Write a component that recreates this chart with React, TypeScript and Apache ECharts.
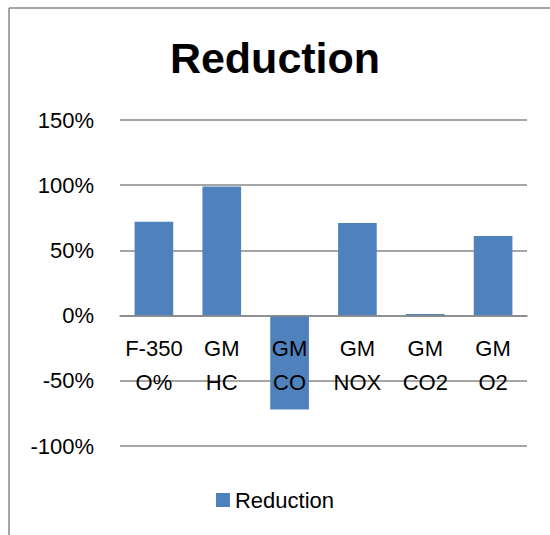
import React, { useEffect, useRef } from "react";
import * as echarts from "echarts";

const categories = ["F-350\nO%", "GM\nHC", "GM\nCO", "GM\nNOX", "GM\nCO2", "GM\nO2"];
const reduction = [72, 99, -72, 71, 1.3, 61];
const seriesName = "Reduction";
const titleText = "Reduction";
const yMin = -100;
const yMax = 150;
const yStep = 50;

export default function App() {
  const ref = useRef<HTMLDivElement>(null);
  useEffect(() => {
    if (!ref.current) return;
    const chart = echarts.init(ref.current, null, { renderer: "svg" });
    const font = "'Liberation Sans', Arial, sans-serif";
    const gridTop = 120;
    const gridBottom = 89;
    const plotH = 535 - gridTop - gridBottom;
    const zeroOffset = -((0 - yMin) / (yMax - yMin)) * plotH;
    chart.setOption({
      animation: false,
      backgroundColor: "#ffffff",
      title: {
        text: titleText,
        left: "center",
        top: 31,
        textStyle: { fontFamily: font, fontSize: 43, fontWeight: "bold", color: "#000" },
      },
      legend: {
        data: [seriesName],
        left: "center",
        top: 484,
        icon: "rect",
        itemWidth: 14,
        itemHeight: 14,
        itemGap: 6,
        textStyle: { fontFamily: font, fontSize: 22, color: "#000" },
      },
      grid: { left: 120, right: 23, top: gridTop, bottom: gridBottom, containLabel: false },
      xAxis: {
        type: "category",
        data: categories,
        position: "bottom",
        offset: zeroOffset,
        z: 5,
        axisLine: { onZero: false, lineStyle: { color: "#888", width: 1.5 } },
        axisTick: { show: false },
        axisLabel: {
          fontFamily: font,
          fontSize: 22,
          color: "#000",
          lineHeight: 34,
          margin: 16,
          interval: 0,
        },
      },
      yAxis: {
        type: "value",
        min: yMin,
        max: yMax,
        interval: yStep,
        axisLine: { show: false },
        axisTick: { show: false },
        splitLine: { lineStyle: { color: "#888", width: 1.5 } },
        axisLabel: {
          fontFamily: font,
          fontSize: 22,
          color: "#000",
          margin: 26,
          formatter: (v: number) => `${v}%`,
        },
      },
      series: [
        {
          name: seriesName,
          type: "bar",
          z: 2,
          data: reduction,
          barWidth: "57%",
          itemStyle: { color: "#4f81bd" },
        },
      ],
      graphic: [
        { type: "line", shape: { x1: 9, y1: 8, x2: 550, y2: 8 }, style: { stroke: "#888", lineWidth: 1.5 } },
        { type: "line", shape: { x1: 9, y1: 8, x2: 9, y2: 535 }, style: { stroke: "#888", lineWidth: 1.5 } },
      ],
    });
    return () => chart.dispose();
  }, []);
  return (
    <div
      ref={ref}
      style={{ position: "absolute", left: 0, top: 0, width: 550, height: 535 }}
    />
  );
}
